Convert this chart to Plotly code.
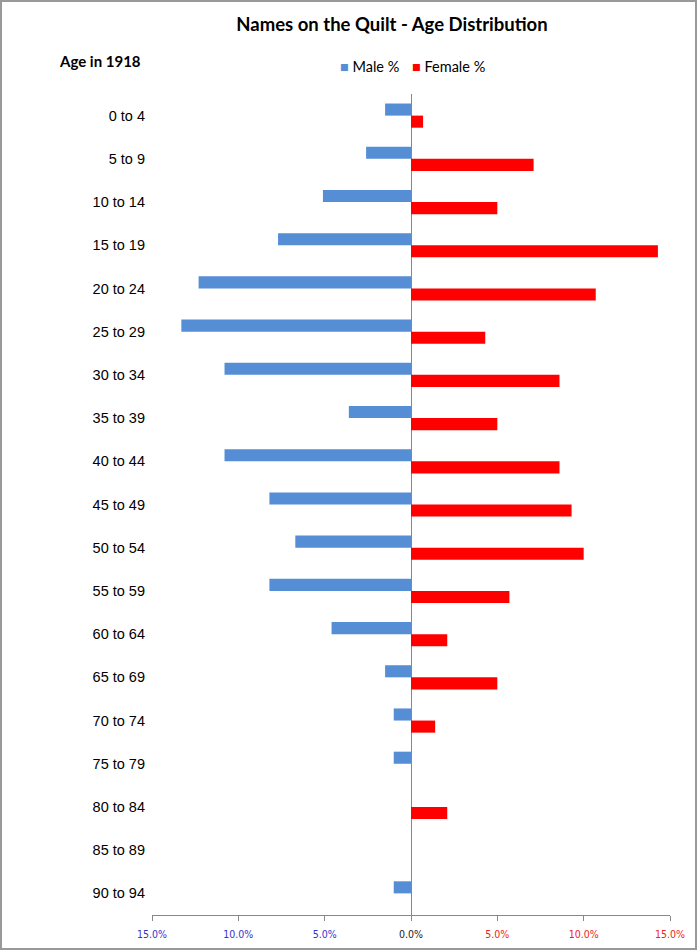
import plotly.graph_objects as go

ages = ["0 to 4", "5 to 9", "10 to 14", "15 to 19", "20 to 24", "25 to 29", "30 to 34",
        "35 to 39", "40 to 44", "45 to 49", "50 to 54", "55 to 59", "60 to 64",
        "65 to 69", "70 to 74", "75 to 79", "80 to 84", "85 to 89", "90 to 94"]
male_pct = [1.5, 2.6, 5.1, 7.7, 12.3, 13.3, 10.8, 3.6, 10.8, 8.2, 6.7, 8.2, 4.6,
            1.5, 1.0, 1.0, 0.0, 0.0, 1.0]
female_pct = [0.7, 7.1, 5.0, 14.3, 10.7, 4.3, 8.6, 5.0, 8.6, 9.3, 10.0, 5.7, 2.1,
              5.0, 1.4, 0.0, 2.1, 0.0, 0.0]
tick_vals = [-15, -10, -5, 0, 5, 10, 15]
tick_labels = ["15.0%", "10.0%", "5.0%", "0.0%", "5.0%", "10.0%", "15.0%"]
tick_colors = ["#3333CC", "#3333CC", "#3333CC", "#222222", "#EE2222", "#EE2222", "#EE2222"]

MALE_C = "#558ED5"
FEMALE_C = "#FF0000"
TITLE_FONT = "Lato, Liberation Sans, Arial, sans-serif"
LABEL_FONT = "Liberation Sans, Arial, sans-serif"

fig = go.Figure()
fig.add_trace(go.Bar(y=ages, x=[-v for v in male_pct], orientation="h", name="Male %",
                     marker=dict(color=MALE_C, line=dict(width=0))))
fig.add_trace(go.Bar(y=ages, x=female_pct, orientation="h", name="Female %",
                     marker=dict(color=FEMALE_C, line=dict(width=0))))

W, H = 697, 950
L, R, T, B = 152, 27, 94, 35
pw, ph = W - L - R, H - T - B


def px_x(p):
    return (p - L) / pw


def px_y(p):
    return 1 - (p - T) / ph


fig.update_layout(
    width=W, height=H,
    margin=dict(l=L, r=R, t=T, b=B),
    paper_bgcolor="white", plot_bgcolor="white",
    barmode="group", bargap=0.44, bargroupgap=0,
    title=dict(text="<b>Names on the Quilt - Age Distribution</b>",
               font=dict(family=TITLE_FONT, size=18.5, color="black"),
               x=392 / W, xanchor="center", y=1 - 25 / H, yanchor="middle"),
    showlegend=False,
    xaxis=dict(range=[-15, 15], tickvals=tick_vals,
               ticktext=[f'<span style="color:{c}">{t}</span>' for t, c in zip(tick_labels, tick_colors)],
               tickfont=dict(family="DejaVu Sans Condensed, DejaVu Sans, sans-serif", size=10.5),
               ticklabelstandoff=4, automargin=False,
               showgrid=False, zeroline=True, zerolinecolor="#888888", zerolinewidth=1,
               showline=True, linecolor="#888888", linewidth=1,
               ticks="outside", ticklen=5, tickcolor="#888888", fixedrange=True),
    yaxis=dict(autorange="reversed", showgrid=False, showline=False, ticks="",
               tickfont=dict(family=LABEL_FONT, size=14.5, color="black"), ticklabelstandoff=6,
               automargin=False, fixedrange=True),
    font=dict(family=LABEL_FONT),
)

fig.add_annotation(text="<b>Age in 1918</b>", xref="paper", yref="paper",
                   x=px_x(100), y=px_y(61), xanchor="center", yanchor="middle",
                   showarrow=False, font=dict(family=TITLE_FONT, size=15, color="black"))

# legend (drawn as text with coloured square glyphs)
for name, color, xpix in [("Male %", MALE_C, 338), ("Female %", FEMALE_C, 410)]:
    fig.add_annotation(text=f'<span style="color:{color}">■</span> {name}', xref="paper", yref="paper",
                       x=px_x(xpix), y=px_y(66), xanchor="left", yanchor="middle",
                       showarrow=False, font=dict(family=TITLE_FONT, size=14.5, color="black"))

# outer frame
fig.add_shape(type="rect", xref="paper", yref="paper",
              x0=px_x(1), x1=px_x(W - 1), y0=px_y(H - 1), y1=px_y(1),
              line=dict(color="#999999", width=2), fillcolor="rgba(0,0,0,0)", layer="above")

fig.write_html("out.html", post_script="document.body.style.margin='0';",
               config={"displayModeBar": False})
